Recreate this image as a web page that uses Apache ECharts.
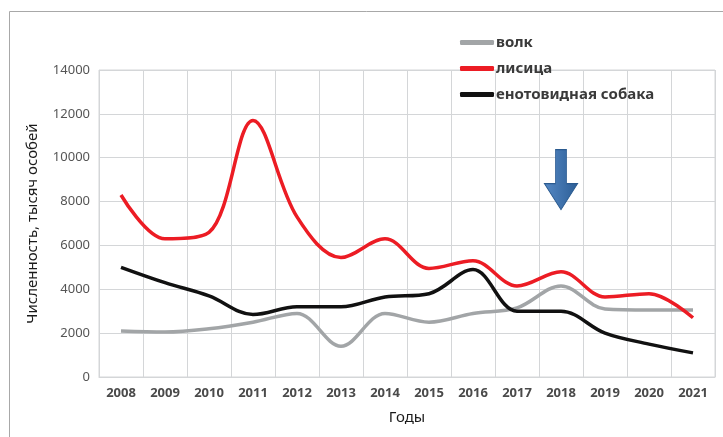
<!DOCTYPE html>
<html>
<head>
<meta charset="utf-8">
<script src="https://cdn.jsdelivr.net/npm/echarts@6/dist/echarts.min.js"></script>
<style>
  html, body { margin: 0; padding: 0; background: #fff; }
  #chart { width: 723px; height: 437px; }
</style>
</head>
<body>
<div id="chart"></div>
<script>
var years = ['2008', '2009', '2010', '2011', '2012', '2013', '2014', '2015', '2016', '2017', '2018', '2019', '2020', '2021'];
var wolf = [2100, 2050, 2200, 2500, 2900, 1400, 2900, 2500, 2900, 3150, 4150, 3100, 3050, 3050];
var fox = [8300, 6300, 6600, 11700, 7300, 5450, 6300, 4950, 5300, 4150, 4800, 3650, 3800, 2700];
var raccoonDog = [5000, 4300, 3700, 2850, 3200, 3200, 3650, 3800, 4900, 3000, 3000, 2000, 1500, 1100];
var seriesNames = ['волк', 'лисица', 'енотовидная собака'];
var arrowPoint = ['2018', 9000];

var chart = echarts.init(document.getElementById('chart'));

var font = 'Noto Sans';
var lineW = 3.5;
var smoothing = 0.35;

var option = {
    animation: false,
    textStyle: { fontFamily: font },
    graphic: [{
        type: 'rect',
        shape: { x: 9.5, y: 11.5, width: 800, height: 500 },
        style: { fill: 'none', stroke: '#a8a8a8', lineWidth: 1 },
        silent: true
    }],
    legend: {
        orient: 'vertical',
        left: 455,
        top: 30,
        itemGap: 11,
        itemWidth: 34,
        itemHeight: 5,
        icon: 'roundRect',
        textStyle: { fontFamily: font, fontSize: 15, fontWeight: 'bold', color: '#3a3a3a', padding: [0, 0, 0, -3] },
        data: seriesNames
    },
    grid: { left: 99, right: 8, top: 70, bottom: 60, show: true, borderColor: '#d4d6d8', borderWidth: 1 },
    xAxis: {
        type: 'category',
        data: years,
        boundaryGap: true,
        name: 'Годы',
        nameLocation: 'middle',
        nameGap: 33,
        nameTextStyle: { fontSize: 15, color: '#1a1a1a' },
        axisLine: { lineStyle: { color: '#d4d6d8' } },
        axisTick: { show: false },
        axisLabel: { fontSize: 13, fontWeight: 'bold', color: '#4a4a4a', margin: 10 },
        splitLine: { show: true, lineStyle: { color: '#d4d6d8', width: 1 } }
    },
    yAxis: {
        type: 'value',
        min: 0,
        max: 14000,
        interval: 2000,
        name: 'Численность, тысяч особей',
        nameLocation: 'middle',
        nameGap: 59,
        nameTextStyle: { fontSize: 15, color: '#1a1a1a' },
        axisLine: { show: false },
        axisTick: { show: false },
        axisLabel: { fontSize: 13, color: '#555', margin: 9, formatter: function (v) { return String(v); } },
        splitLine: { lineStyle: { color: '#d4d6d8', width: 1 } }
    },
    series: [
        {
            name: seriesNames[0],
            type: 'line',
            data: wolf,
            smooth: smoothing,
            symbol: 'none',
            itemStyle: { color: '#a2a5a7' },
            lineStyle: { color: '#a2a5a7', width: lineW }
        },
        {
            name: seriesNames[1],
            type: 'line',
            data: fox,
            smooth: smoothing,
            symbol: 'none',
            itemStyle: { color: '#ec1c24' },
            lineStyle: { color: '#ec1c24', width: lineW },
            markPoint: {
                silent: true,
                symbol: 'path://M11,0 L22,0 L22,34 L33,34 L16.5,60 L0,34 L11,34 Z',
                symbolSize: [33, 60],
                label: { show: false },
                itemStyle: {
                    color: new echarts.graphic.LinearGradient(0, 0, 1, 0, [
                        { offset: 0, color: '#5588c4' },
                        { offset: 1, color: '#2c5e96' }
                    ]),
                    borderColor: '#2a5a8f',
                    borderWidth: 1
                },
                data: [{ coord: arrowPoint }]
            }
        },
        {
            name: seriesNames[2],
            type: 'line',
            data: raccoonDog,
            smooth: smoothing,
            symbol: 'none',
            itemStyle: { color: '#111' },
            lineStyle: { color: '#111', width: lineW }
        }
    ]
};

chart.setOption(option);
</script>
</body>
</html>
